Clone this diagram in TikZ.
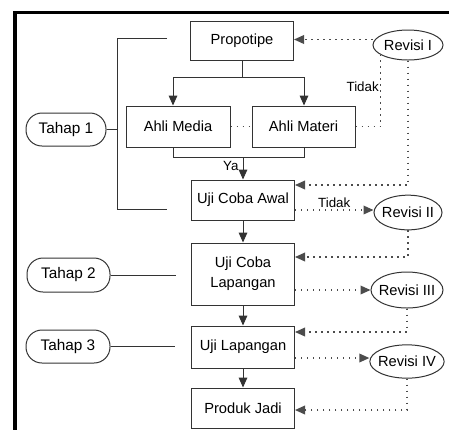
\documentclass[tikz,border=0pt]{standalone}
\usepackage{fontspec}
\setmainfont{Liberation Sans}
\usetikzlibrary{shapes.geometric,arrows.meta}
\begin{document}
\begin{tikzpicture}[x=0.75pt,y=-0.75pt,
  ln/.style={draw=black!80,line width=0.75pt},
  box/.style={ln,rectangle,minimum width=77.25pt,inner sep=0pt,align=center,font=\fontsize{11}{15}\selectfont},
  rev/.style={ln,ellipse,inner xsep=-2pt,inner ysep=0pt,font=\fontsize{11}{12}\selectfont},
  tahap/.style={ln,rectangle,rounded corners=12pt,minimum width=60pt,minimum height=24.75pt,font=\fontsize{11.5}{13}\selectfont},
  arr/.style={ln,-{Triangle[length=7.5pt,width=6.5pt]}},
  dot/.style={draw=black!70,line width=1pt,dash pattern=on 1pt off 3.5pt},
  dotarr/.style={dot,-{Triangle[length=7.5pt,width=6.5pt]}},
  lab/.style={font=\fontsize{10}{11}\selectfont,inner sep=1pt}]
\useasboundingbox (0,0) rectangle (449,430);
% frame
\fill (13,10.5) rectangle (16.5,430);
\fill (13,10.5) rectangle (449,14);
% main boxes
\node[box,minimum height=29.25pt] (propo) at (242,40.5) {Propotipe};
\node[box,minimum width=78pt,minimum height=30.75pt] (media) at (178,126.5) {Ahli Media};
\node[box,minimum height=30.75pt] (materi) at (303.5,126.5) {Ahli Materi};
\node[box,minimum height=30pt] (awal) at (243,200) {Uji Coba Awal};
\node[box,minimum height=46.5pt] (lap) at (243,274) {Uji Coba\\Lapangan};
\node[box,minimum height=31.5pt] (ujilap) at (243,347) {Uji Lapangan};
\node[box,minimum height=30pt] (produk) at (243,408) {Produk Jadi};
% revisi
\node[rev,minimum width=52.5pt,minimum height=22.5pt] (rev1) at (408,45) {Revisi I};
\node[rev,minimum width=51pt,minimum height=26pt] (rev2) at (408,212.5) {Revisi II};
\node[rev,minimum width=54pt,minimum height=27pt] (rev3) at (407,290) {Revisi III};
\node[rev,minimum width=54pt,minimum height=25pt] (rev4) at (407,361.5) {Revisi IV};
% tahap
\node[tahap] (t1) at (66,129.5) {Tahap 1};
\node[tahap,minimum width=62.25pt,minimum height=25.5pt] (t2) at (68.5,275) {Tahap 2};
\node[tahap,minimum width=63pt] (t3) at (68,346.5) {Tahap 3};
% split from Propotipe
\coordinate (jL) at (173,77);
\coordinate (jR) at (304,77);
\draw[ln] (propo.south) -- (propo.south |- jL);
\draw[ln] (jL) -- (jR);
\draw[arr] (jL) -- (jL |- media.north);
\draw[arr] (jR) -- (jR |- materi.north);
% join to Uji Coba Awal
\coordinate (bL) at (173,157);
\coordinate (bR) at (304,157);
\draw[ln] (bL |- media.south) -- (bL) -- (bR) -- (bR |- materi.south);
\draw[arr] (awal.north |- bL) -- node[lab,left,xshift=-2pt,pos=0.4]{Ya} (awal.north);
% vertical flow
\draw[arr] (awal) -- (lap);
\draw[arr] (lap) -- (ujilap);
\draw[arr] (ujilap) -- (produk);
% bracket Tahap 1
\coordinate (brT) at (167,38);
\coordinate (brB) at (167,209);
\coordinate (brX) at (117,128);
\draw[ln] (brT) -- (brX |- brT) -- (brX |- brB) -- (brB);
\draw[ln] (t1.east) -- (brX |- t1.east);
\coordinate (t2e) at (176,275);
\draw[ln] (t2) -- (t2e);
\coordinate (t3e) at (175,346.5);
\draw[ln] (t3) -- (t3e);
% dotted revisions
\coordinate (a0) at (0,39.5);
\draw[dotarr] (rev1.west |- a0) -- (propo.east |- a0);
\draw[dot] (media) -- (materi);
\draw[dot] (materi.east) -| node[lab,left,pos=0.78]{Tidak} (rev1.200);
\coordinate (a1) at (408,185);
\draw[dotarr] (rev1.south) -- (a1) -- (a1 -| awal.east);
\coordinate (a2) at (0,210);
\draw[dotarr] (awal.east |- a2) -- node[lab,above]{Tidak} (rev2.west |- a2);
\coordinate (a3) at (408,257);
\draw[dotarr] (rev2.south) -- (a3) -- (a3 -| lap.east);
\draw[dotarr] (lap.east |- rev3.west) -- (rev3.west);
\coordinate (a4) at (407,332);
\draw[dotarr] (rev3.south) -- (a4) -- (a4 -| ujilap.east);
\coordinate (a5) at (0,358);
\draw[dotarr] (ujilap.east |- a5) -- (rev4.west |- a5);
\coordinate (a6) at (407,410);
\draw[dotarr] (rev4.south) -- (a6) -- (a6 -| produk.east);
\end{tikzpicture}
\end{document}
